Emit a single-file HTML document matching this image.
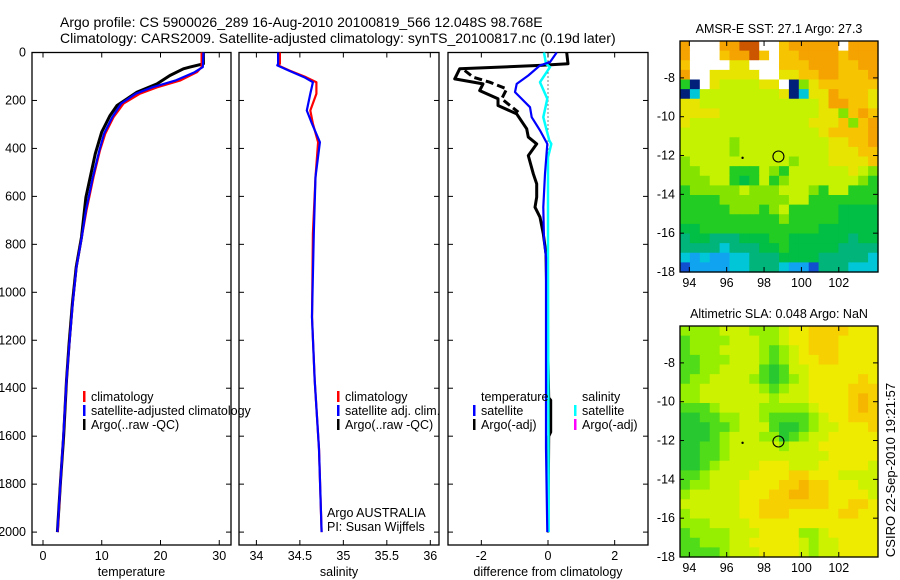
<!DOCTYPE html>
<html><head><meta charset="utf-8"><style>
body{margin:0;background:#fff}
svg{display:block;font-family:"Liberation Sans",sans-serif}
text{font-size:12.5px;fill:#000}
</style></head><body>
<svg id="fig" width="900" height="580" viewBox="0 0 900 580">
<text x="60" y="27" style="font-size:14px">Argo profile: CS 5900026_289 16-Aug-2010 20100819_566 12.048S 98.768E</text>
<text x="60" y="43" style="font-size:14px">Climatology: CARS2009. Satellite-adjusted climatology: synTS_20100817.nc (0.19d later)</text>
<text transform="translate(895,470) rotate(-90)" text-anchor="middle" style="font-size:13px">CSIRO 22-Sep-2010 19:21:57</text>
</svg>
<script>
// ---- data ----
const depthTicks=[0,200,400,600,800,1000,1200,1400,1600,1800,2000];
const tempTicks=[0,10,20,30];
const salTicks=[34,34.5,35,35.5,36];
const diffTicks=[-2,0,2];
const climTdepth=[0,61,82,117,145,172,213,270,338,408,519,658,770,895,1046,1213,1367,1603,1783,2000];
const climT=[27.0,27.0,26.2,23.3,19.4,16.5,13.7,12.0,10.6,9.7,8.6,7.4,6.6,5.7,5.05,4.5,4.0,3.46,3.0,2.5];
const satT=[27.3,27.2,25.8,22.5,18.6,15.8,13.3,11.8,10.4,9.6,8.5,7.3,6.6,5.7,5.05,4.5,4.0,3.45,3.0,2.45];
const argoTdepth=[0,47,61,68,96,131,165,221,263,332,422,604,770,895,1046,1213,1367,1603,1783,2000];
const argoT=[27.3,27.3,25.0,23.9,21.6,19.4,16.0,12.6,11.4,10.0,8.9,7.3,6.55,5.65,5.0,4.45,4.0,3.5,3.0,2.45];
const salDepth=[0,47,54,75,103,124,172,242,297,374,519,755,1103,1367,1653,2000];
const climS=[34.27,34.27,34.25,34.38,34.57,34.69,34.69,34.62,34.65,34.71,34.68,34.65,34.64,34.67,34.72,34.75];
const satS=[34.25,34.25,34.24,34.37,34.55,34.65,34.62,34.58,34.64,34.73,34.68,34.66,34.64,34.67,34.72,34.75];
const dTdepth=[0,40,54,96,131,165,186,228,270,325,381,506,645,784,854,1650,2000];
const dTsat=[0.26,0.06,-0.24,-0.59,-0.94,-0.99,-0.84,-0.54,-0.49,-0.24,-0.02,-0.09,-0.14,-0.12,-0.06,-0.06,-0.02];
const dSdepth=[0,47,61,124,193,270,367,381,437,854,2000];
const dSsat=[-0.12,-0.06,0.06,-0.24,-0.02,-0.14,0.04,0.1,0.0,0.0,0.02];
const dArgoDepth=[0,47,54,68,110,131,159,193,221,256,318,353,381,430,506,548,603,645,687,756,840,1440,1450,1583,1600,2000];
const dArgo=[0.56,0.6,-0.24,-2.65,-2.8,-1.95,-2.05,-1.5,-1.5,-0.94,-0.64,-0.59,-0.34,-0.59,-0.44,-0.34,-0.34,-0.39,-0.24,-0.14,-0.06,0.02,0.08,0.08,0.02,0.0];
const dArgo2Depth=[75,103,124,152,193,249];
const dArgo2=[-2.5,-2.24,-1.75,-1.24,-1.39,-0.89];
const latTicks=[-8,-10,-12,-14,-16,-18];
const lonTicks=[94,96,98,100,102];
const sstGrid=["oWWWooOOWWyoooooWooo","oWWWyooOyWyyooooyooo","yWWWWYYWWWyyyoooyyoo","oWWYYYYYWWYYyyooyyyo","gNWYLLLLYYWNGYyyyyyy","NcLLLLLLLLYNcYYoyyyY","YYLLLLLLLLLLLLYooyyY","YYYYLLLLLLLLLLYYGyoy","YLLLLLLLLLLLLYYYyGyo","LLLLLLLLLLLLLLYyyyyo","LLLLLGLLLLLLLLLYYyyo","LLLLLGLLLLLLLLLYYYyy","GLLLLLLLLLLGLLLYYYYy","GGLLLgggLGgLLLLLLYLG","GGGLLgDgLgGLLLLLLLGg","gGGGGGLGGGLLLGgLLggg","ggggGGGGGGGLLggggggg","gggggGGGgGLgggggDDDD","ggggggggggGgggggDDDD","DDggggggggggggDDDDDD","tDDtttDDDggDDDDDDtDD","ttttctttDDgDDDDDtttt","cbcbbcctttDDDDtttttc","BbbbbcctttcbbBtttccc"];
const slaGrid=["GGGGLLLGGGLYYyyyyYYY","gGGGGLLLGGLYYyyyYYYY","gGGGLLLLGgGLYyyyYYYY","ggGGGLLLGgGLYYyyYYYY","ggGGLLLLgDgLLYYYYYYY","gGGLLLLGgDgGLYYYYYyY","GGLLLLLLGgGLLYYYYyyy","GGLLLLLLLGLLLYYYYyoy","gggGLLLLGGGGGLYYYyoy","DDggGGLLGggggGLYYyyy","DDDggGLLLgDDgGLLYYYy","DDDgGLLLGGDgGLLYYYYY","DDggGLLLLLGLLLYYYYYY","DDggGLLLLLLLLLLYYYYY","DDgGLLLLYYYLLLYYYYYL","ggGLLLLYYYYyyYYYLLLL","gGGLLLYYYYyyoyyYYYLL","GLLLLLYYYyyooyyYYYYL","LLLLLLYYyyyyyyyYYyyY","GLLLLLYYyyyYYYYYyyYY","GGGLLLLYYYYYYYYYYYYY","gGGGGLLLYYYYGGLYYYYY","ggGGGLLYYYYYLGLLYYYY","ggggGLLLYYYYLGLLYYYY"];

const NS='http://www.w3.org/2000/svg';
const svg=document.getElementById('fig');
function mk(tag,attrs,parent){const e=document.createElementNS(NS,tag);for(const k in attrs)e.setAttribute(k,attrs[k]);(parent||svg).appendChild(e);return e;}
function txt(x,y,s,anchor,parent){const t=mk('text',{x:x,y:y,'text-anchor':anchor||'start'},parent);t.textContent=s;return t;}

const yTop=52.5, yPx=0.2398;
function yD(d){return yTop+d*yPx;}
const bottom=545;

function panel(name,x0,x1,xmin,xmax,xticks,xlabel,showY){
  const g=mk('g',{});
  
  
  const xs=v=>x0+(v-xmin)/(xmax-xmin)*(x1-x0);
  const r=mk('rect',{x:x0,y:yTop,width:x1-x0,height:bottom-yTop,fill:'none',stroke:'#000','stroke-width':1.3},g);
  
  
  xticks.forEach(v=>{const x=xs(v);
    mk('line',{x1:x,x2:x,y1:bottom,y2:bottom-5,stroke:'#000'},g);
    mk('line',{x1:x,x2:x,y1:yTop,y2:yTop+5,stroke:'#000'},g);
    const t=txt(x,560,String(v),'middle',g);
    
    });
  depthTicks.forEach(d=>{const y=yD(d);
    mk('line',{x1:x0,x2:x0+5,y1:y,y2:y,stroke:'#000'},g);
    mk('line',{x1:x1,x2:x1-5,y1:y,y2:y,stroke:'#000'},g);
    if(showY){const t=txt(26,y+4,String(d),'end',g);
      
      }});
  const xl=txt((x0+x1)/2,576,xlabel,'middle',g);
  
  
  return xs;
}
function series(name,xs,vals,depths,color,w,dash){
  const pts=vals.map((v,i)=>xs(v).toFixed(1)+','+yD(depths[i]).toFixed(1)).join(' ');
  const p=mk('polyline',{points:pts,fill:'none',stroke:color,'stroke-width':w||2,'stroke-linejoin':'round'});
  if(dash)p.setAttribute('stroke-dasharray',dash);
  
  
}
function legend(x,y,color,label,name){
  const b=mk('rect',{x:x,y:y-10,width:2.5,height:11,fill:color});
  
  
  const t=txt(x+8,y,label);
  
  
}

// Panel 1: temperature
const xT=panel('temperature',32,231,-1.87,32,tempTicks,'temperature',true);
series('argo-temperature-line',xT,argoT,argoTdepth,'#000',3);
series('climatology-temperature-line',xT,climT,climTdepth,'#f00',2.2);
series('satellite-temperature-line',xT,satT,climTdepth,'#00f',2.2);
legend(83,401,'#f00','climatology','legend-climatology');
legend(83,415,'#00f','satellite-adjusted climatology','legend-satellite-adjusted');
legend(83,429,'#000','Argo(..raw -QC)','legend-argo-raw');

// Panel 2: salinity
const xS=panel('salinity',239,439,33.8,36.1,salTicks,'salinity',false);
series('climatology-salinity-line',xS,climS,salDepth,'#f00',2.2);
series('satellite-salinity-line',xS,satS,salDepth,'#00f',2.2);
legend(337,401,'#f00','climatology','legend-sal-climatology');
legend(337,415,'#00f','satellite adj. clim.','legend-sal-satellite');
legend(337,429,'#000','Argo(..raw -QC)','legend-sal-argo');
const a1=txt(327,517,'Argo AUSTRALIA');
const a2=txt(327,531,'PI: Susan Wijffels');

// Panel 3: difference
const xDf=panel('difference',448,648,-3.0,3.0,diffTicks,'difference from climatology',false);
const zl=mk('line',{x1:xDf(0),x2:xDf(0),y1:yTop,y2:bottom-12,stroke:'#000','stroke-dasharray':'1,3'});

series('argo-temperature-diff-line',xDf,dArgo,dArgoDepth,'#000',3);
series('argo-temperature-diff-line-2',xDf,dArgo2,dArgo2Depth,'#000',3,'8,4');
series('salinity-satellite-diff-line',xDf,dSsat,dSdepth,'#0ff',2.5);
series('temperature-satellite-diff-line',xDf,dTsat,dTdepth,'#00f',2.2);
const lt=txt(481,401,'temperature');
const ls=txt(582,401,'salinity');
legend(473,415,'#00f','satellite','legend-temp-satellite');
legend(473,429,'#000','Argo(-adj)','legend-temp-argo');
legend(574,415,'#0ff','satellite','legend-sal-satellite-diff');
legend(574,429,'#f0f','Argo(-adj)','legend-sal-argo-diff');

// Maps
const sstColors={O:'#cc5500',o:'#f5a300',y:'#f6c400',Y:'#e6e400',L:'#c4f200',G:'#84e400',g:'#22cc22',D:'#00bf44',t:'#00b47a',c:'#00c6d8',b:'#10a4f0',B:'#1050d0',W:'#ffffff',N:'#00207a'};
const slaColors={G:'#96ee00',g:'#50dc18',D:'#28c830',L:'#ccf200',Y:'#eeea00',y:'#f6d000',o:'#f6b600'};
function map(name,y0,y1,title,grid,colors){
  const x0=680,x1=878,lonMin=93.5,lonMax=104.1,latTop=-6.1,latBot=-18;
  const lx=v=>x0+(v-lonMin)/(lonMax-lonMin)*(x1-x0);
  const ly=v=>y0+(latTop-v)/(latTop-latBot)*(y1-y0);
  const g=mk('g',{});
  
  
  const rows=grid.length,cols=grid[0].length,cw=(x1-x0)/cols,ch=(y1-y0)/rows;
  grid.forEach((row,r)=>{for(let c=0;c<cols;c++){
    mk('rect',{x:(x0+c*cw).toFixed(2),y:(y0+r*ch).toFixed(2),width:(cw+0.6).toFixed(2),height:(ch+0.6).toFixed(2),fill:colors[row[c]]},g);}});
  const fr=mk('rect',{x:x0,y:y0,width:x1-x0,height:y1-y0,fill:'none',stroke:'#000','stroke-width':1.3},g);
  
  latTicks.forEach(v=>{const y=ly(v);
    mk('line',{x1:x1,x2:x1-5,y1:y,y2:y,stroke:'#000'},g);
    mk('line',{x1:x0,x2:x0+4,y1:y,y2:y,stroke:'#000'},g);
    const t=txt(675,y+4,String(v),'end',g);
    });
  lonTicks.forEach(v=>{const x=lx(v);
    mk('line',{x1:x,x2:x,y1:y1,y2:y1-5,stroke:'#000'},g);
    mk('line',{x1:x,x2:x,y1:y0,y2:y0+5,stroke:'#000'},g);
    const t=txt(x,y1+15,String(v),'middle',g);
    });
  const c=mk('circle',{cx:lx(98.77),cy:ly(-12.05),r:5.5,fill:'none',stroke:'#000','stroke-width':1.1},g);
  
  mk('circle',{cx:lx(96.85),cy:ly(-12.12),r:1.2,fill:'#000'},g);
  const tt=txt((x0+x1)/2,y0-8,title,'middle',g);
  
}
map('sst-map',41,272,'AMSR-E SST: 27.1 Argo: 27.3',sstGrid,sstColors);
map('sla-map',326,557,'Altimetric SLA: 0.048 Argo: NaN',slaGrid,slaColors);
</script>
</body></html>
